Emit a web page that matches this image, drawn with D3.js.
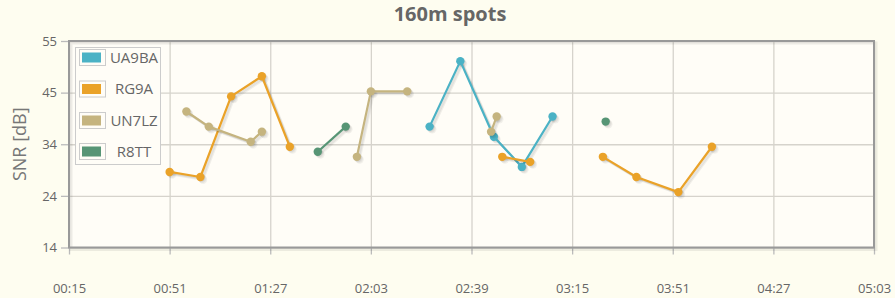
<!DOCTYPE html>
<html>
<head>
<meta charset="utf-8">
<script src="https://cdn.jsdelivr.net/npm/d3@7"></script>
<style>
  html, body { margin: 0; padding: 0; background: #fefdf0; }
  svg { display: block; font-family: "Open Sans", "DejaVu Sans", sans-serif; }
</style>
</head>
<body>
<svg id="chart" width="895" height="298"></svg>
<script>
// ---------- data ----------
const title = "160m spots";
const yLabel = "SNR [dB]";
const seriesNames = ["UA9BA", "RG9A", "UN7LZ", "R8TT"];
const seriesColors = ["#4bb2c5", "#eaa228", "#c5b47f", "#579575"];

// null entries mark a break in the line
const ua9baTimes = ["02:24", "02:35", "02:47", "02:57", "03:08"];
const ua9baSnr   = [38, 51, 36, 30, 40];

const rg9aTimes = ["00:51", "01:02", "01:13", "01:24", "01:34", null, "02:50", "03:00", null, "03:26", "03:38", "03:53", "04:05"];
const rg9aSnr   = [29, 28, 44, 48, 34, null, 32, 31, null, 32, 28, 25, 34];

const un7lzTimes = ["00:57", "01:05", "01:20", "01:24", null, "01:58", "02:03", "02:16", null, "02:46", "02:48"];
const un7lzSnr   = [41, 38, 35, 37, null, 32, 45, 45, null, 37, 40];

const r8ttTimes = ["01:44", "01:54", null, "03:27"];
const r8ttSnr   = [33, 38, null, 39];

const xTickLabels = ["00:15", "00:51", "01:27", "02:03", "02:39", "03:15", "03:51", "04:27", "05:03"];
const yTickValues = [14, 24.25, 34.5, 44.75, 55];
const yTickLabels = ["14", "24", "34", "45", "55"];

// ---------- setup ----------
const W = 895, H = 298;
const margin = { left: 69, right: 21, top: 41, bottom: 50.5 };
const iw = W - margin.left - margin.right;
const ih = H - margin.top - margin.bottom;

const parseT = d3.timeParse("%H:%M");
const xTicks = xTickLabels.map(parseT);

const x = d3.scaleTime()
  .domain([xTicks[0], xTicks[xTicks.length - 1]])
  .range([0, iw]);
const y = d3.scaleLinear()
  .domain([yTickValues[0], yTickValues[yTickValues.length - 1]])
  .range([ih, 0]);

function build(times, vals) {
  return times.map((t, i) => (t === null ? { t: null, v: null } : { t: parseT(t), v: vals[i] }));
}
const series = [
  build(ua9baTimes, ua9baSnr),
  build(rg9aTimes, rg9aSnr),
  build(un7lzTimes, un7lzSnr),
  build(r8ttTimes, r8ttSnr)
];

const svg = d3.select("#chart");

// title
svg.append("text")
  .attr("x", 450).attr("y", 21)
  .attr("text-anchor", "middle")
  .attr("font-size", 20).attr("font-weight", "bold")
  .attr("fill", "#666")
  .text(title);

// y label
svg.append("text")
  .attr("transform", `translate(26,${margin.top + ih / 2}) rotate(-90)`)
  .attr("text-anchor", "middle")
  .attr("font-size", 18)
  .attr("fill", "#777")
  .text(yLabel);

const g = svg.append("g").attr("transform", `translate(${margin.left},${margin.top})`);

// plot background
g.append("rect").attr("width", iw).attr("height", ih).attr("fill", "#fffdf7");

// grid
const gridX = g.append("g").attr("transform", `translate(0,${ih})`)
  .call(d3.axisBottom(x).tickValues(xTicks).tickSize(-ih).tickFormat(""));
const gridY = g.append("g")
  .call(d3.axisLeft(y).tickValues(yTickValues).tickSize(-iw).tickFormat(""));
[gridX, gridY].forEach(s => {
  s.select(".domain").remove();
  s.selectAll("line").attr("stroke", "#d6d3cc").attr("stroke-width", 1.3);
});

// axes with tick marks and labels
const xAxis = g.append("g").attr("transform", `translate(0,${ih})`)
  .call(d3.axisBottom(x).tickValues(xTicks).tickSize(7).tickPadding(29)
    .tickFormat((d, i) => xTickLabels[i]));
const yAxis = g.append("g")
  .call(d3.axisLeft(y).tickValues(yTickValues).tickSize(8).tickPadding(4)
    .tickFormat((d, i) => yTickLabels[i]));
[xAxis, yAxis].forEach(s => {
  s.select(".domain").remove();
  s.selectAll("line").attr("stroke", "#bbb").attr("stroke-width", 1.3);
  s.selectAll("text").attr("fill", "#666").attr("font-size", 13)
    .attr("font-family", "'Open Sans', sans-serif");
});

// border with shadow
g.append("rect").attr("x", 2).attr("y", 2).attr("width", iw).attr("height", ih)
  .attr("fill", "none").attr("stroke", "rgba(0,0,0,0.07)").attr("stroke-width", 3);
g.append("rect").attr("width", iw).attr("height", ih)
  .attr("fill", "none").attr("stroke", "#999").attr("stroke-width", 2);

// series
const line = d3.line()
  .defined(d => d.v !== null)
  .x(d => x(d.t)).y(d => y(d.v));

series.forEach((data, si) => {
  const sg = g.append("g");
  const pts = data.filter(d => d.v !== null);
  // shadows
  for (let k = 1; k <= 3; k++) {
    const off = 0.9 * k;
    sg.append("path").datum(data)
      .attr("d", line).attr("fill", "none")
      .attr("stroke", "rgba(0,0,0,0.06)").attr("stroke-width", 2.2)
      .attr("transform", `translate(${off},${off})`);
    sg.selectAll(null).data(pts).enter().append("circle")
      .attr("cx", d => x(d.t) + off).attr("cy", d => y(d.v) + off)
      .attr("r", 4.2).attr("fill", "rgba(0,0,0,0.05)");
  }
  sg.append("path").datum(data)
    .attr("d", line).attr("fill", "none")
    .attr("stroke", seriesColors[si]).attr("stroke-width", 2.2)
    .attr("stroke-linejoin", "round");
  sg.selectAll(null).data(pts).enter().append("circle")
    .attr("cx", d => x(d.t)).attr("cy", d => y(d.v))
    .attr("r", 4.2).attr("fill", seriesColors[si]);
});

// legend
const lg = svg.append("g");
lg.append("rect").attr("x", 75.5).attr("y", 47.5).attr("width", 85).attr("height", 117)
  .attr("fill", "#fffdf7").attr("stroke", "#ccc").attr("stroke-width", 1);
const rowY = [57.5, 89, 120.5, 151.5];
seriesNames.forEach((name, i) => {
  const cy = rowY[i];
  lg.append("rect").attr("x", 79.5).attr("y", cy - 8).attr("width", 26).attr("height", 16)
    .attr("fill", "none").attr("stroke", "#ccc");
  lg.append("rect").attr("x", 82).attr("y", cy - 5).attr("width", 19).attr("height", 10)
    .attr("fill", seriesColors[i]);
  lg.append("text").attr("x", 134).attr("y", cy).attr("dy", "0.36em")
    .attr("text-anchor", "middle").attr("font-size", 15).attr("fill", "#666")
    .text(name);
});
</script>
</body>
</html>
